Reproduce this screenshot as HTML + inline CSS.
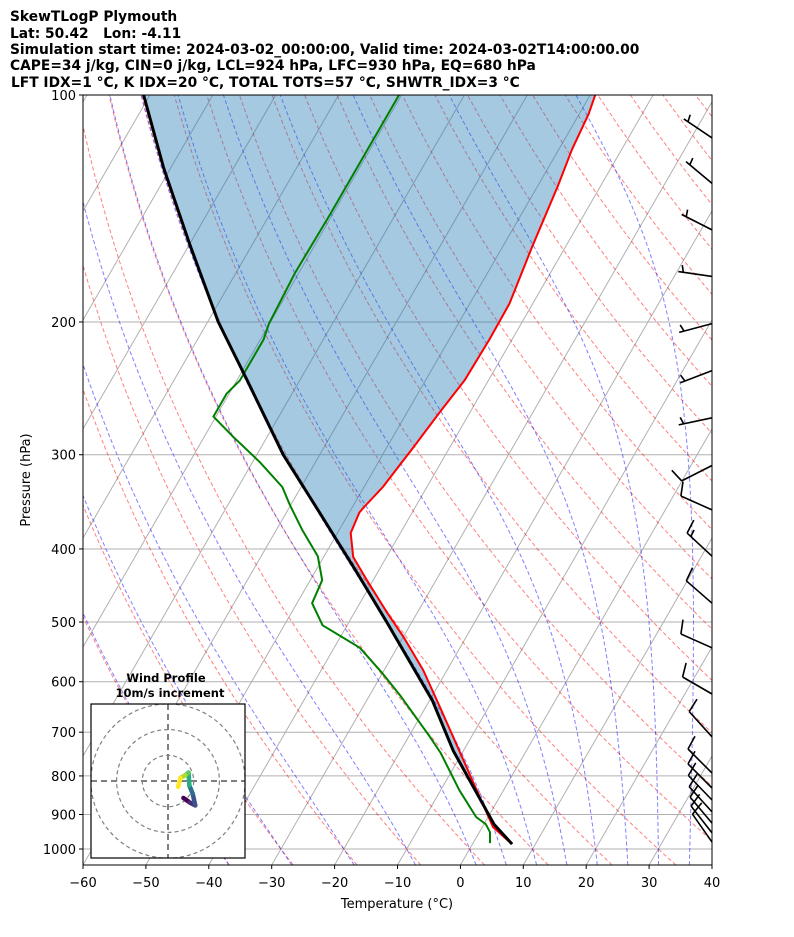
<!DOCTYPE html>
<html><head><meta charset="utf-8"><style>
html,body{margin:0;padding:0;background:#fff;}
svg{display:block;font-family:"DejaVu Sans","Liberation Sans",sans-serif;}
.hdr text{white-space:pre;}
</style></head><body>
<svg id="chart" width="794" height="937" viewBox="0 0 794 937" xmlns="http://www.w3.org/2000/svg">
<g class="hdr" font-weight="bold" font-size="13.8" fill="#000" xml:space="preserve">
<text x="10" y="21">SkewTLogP Plymouth</text>
<text x="10" y="38">Lat: 50.42   Lon: -4.11</text>
<text x="10" y="54">Simulation start time: 2024-03-02_00:00:00, Valid time: 2024-03-02T14:00:00.00</text>
<text x="10" y="70">CAPE=34 j/kg, CIN=0 j/kg, LCL=924 hPa, LFC=930 hPa, EQ=680 hPa</text>
<text x="11" y="87">LFT IDX=1 °C, K IDX=20 °C, TOTAL TOTS=57 °C, SHWTR_IDX=3 °C</text>
</g>
<defs><clipPath id="plotclip"><rect x="83" y="95" width="629" height="770"/></clipPath>
<clipPath id="hodoclip"><rect x="91" y="704" width="154" height="154"/></clipPath></defs>
<g id="plot" clip-path="url(#plotclip)"></g>
<g id="barbs"></g>
<rect x="83" y="95" width="629" height="770" fill="none" stroke="#000" stroke-width="1"/>
<g id="axes"></g>
<text x="397" y="908" text-anchor="middle" font-size="13">Temperature (°C)</text>
<text x="30" y="480" text-anchor="middle" font-size="13" transform="rotate(-90 30 480)">Pressure (hPa)</text>
<g id="hodo"></g>
</svg>
<script>
const tempP=[982,935,650,579,523,486,440,410,381,358,353,331,324,294,263,239,211,189,159,132,118,106,100];
const tempT=[6.0,1.7,-17.6,-23.8,-30.0,-34.8,-41.0,-45.3,-47.9,-48.4,-48.2,-47.0,-46.8,-45.8,-44.8,-43.8,-43.6,-43.7,-45.3,-46.8,-47.9,-48.5,-49.2];
const dewP=[982,950,927,907,836,746,710,625,583,541,505,472,440,409,378,350,331,307,284,267,249,239,211,201,172,144,115,100];
const dewT=[2.7,1.7,0.3,-1.9,-7.0,-13.4,-16.6,-25.2,-30.2,-35.9,-43.9,-47.6,-48.1,-51.0,-55.8,-60.1,-63.0,-68.8,-75.4,-80.4,-80.4,-79.5,-79.5,-80.1,-80.6,-80.4,-80.4,-80.4];
const parcelP=[985,927,741,636,500,429,353,300,238,200,158,125,100];
const parcelT=[6.3,1.6,-11.6,-19.5,-34.0,-43.4,-55.6,-65.8,-78.6,-88.3,-99.9,-111.1,-121.0];
const barbP=[114,131,151,174,201,232,268,310,355,409,472,541,623,710,793,830,861,893,924,952,979];
const barbDir=[304,310,297,278,255,249,258,243,294,313,311,294,300,318,315,315,316,318,320,322,325];
const barbSpd=[5,5,5,5,5,5,5,10,10,15,10,10,10,10,10,10,10,10,10,10,10];
const hodoU=[6.0,8.5,10.6,9.6,8.3,8.0,6.7,4.8,3.9];
const hodoV=[-6.6,-8.4,-9.5,-4.9,-1.7,3.3,2.2,1.2,-2.3];
const xTicks=[-60,-50,-40,-30,-20,-10,0,10,20,30,40];
const yTicks=[100,200,300,400,500,600,700,800,900,1000];
const dryTheta=[-40,-30,-20,-10,0,10,20,30,40,50,60,70,80,90,100,110,120,130,140,150,160,170,180,190];
const moistT0=[-40,-30,-20,-10,0,5,10,15,20,25,30,35];

const NS='http://www.w3.org/2000/svg';
const yOf=p=>95+754*Math.log10(p/100);
const xOf=(T,p)=>83+(T+60)*6.29+0.577*(865-yOf(p));
function mk(tag,attrs,parent){const e=document.createElementNS(NS,tag);for(const k in attrs)e.setAttribute(k,attrs[k]);parent.appendChild(e);return e;}
function pathFrom(P,T){return P.map((p,i)=>(i?'L':'M')+xOf(T[i],p).toFixed(1)+' '+yOf(p).toFixed(1)).join(' ');}
const plot=document.getElementById('plot');
yTicks.forEach(p=>{const l=mk('line',{x1:83,x2:712,y1:yOf(p),y2:yOf(p),stroke:'#b0b0b0','stroke-width':1},plot);
});
for(let t=-170;t<=40;t+=10){const l=mk('line',{x1:xOf(t,1050),y1:yOf(1050),x2:xOf(t,100),y2:yOf(100),stroke:'#b0b0b0','stroke-width':1},plot);
}
const pLev=[];for(let p=1050;p>=100;p-=10)pLev.push(p);
dryTheta.forEach(th=>{const T=pLev.map(p=>(th+273.15)*Math.pow(p/1000,0.2857)-273.15);
const e=mk('path',{d:pathFrom(pLev,T),fill:'none',stroke:'rgba(255,0,0,0.5)','stroke-width':1,'stroke-dasharray':'4,2.5'},plot);
});
function dTdp(p,T){const es=6.112*Math.exp(17.67*(T-273.15)/(T-29.65));const rs=0.622*es/(p-es);
return (287.04*T+2.501e6*rs)/(1005.7+2.501e6*2.501e6*rs*0.622/(287.04*T*T))/p;}
function moist(t0){const up=[],dn=[];let T=t0+273.15,p=1000;up.push([p,T]);
while(p>100){const h=-5;const k1=dTdp(p,T);const k2=dTdp(p+h,T+h*k1);T+=h*(k1+k2)/2;p+=h;up.push([p,T]);}
T=t0+273.15;p=1000;while(p<1050){const h=5;const k1=dTdp(p,T);const k2=dTdp(p+h,T+h*k1);T+=h*(k1+k2)/2;p+=h;dn.unshift([p,T]);}
return dn.concat(up);}
moistT0.forEach(t0=>{const pts=moist(t0);const e=mk('path',{d:pathFrom(pts.map(a=>a[0]),pts.map(a=>a[1]-273.15)),fill:'none',stroke:'rgba(0,0,255,0.5)','stroke-width':1,'stroke-dasharray':'4,2.5'},plot);
});
{const d=pathFrom(parcelP,parcelT)+' '+tempP.slice().reverse().map((p,i)=>'L'+xOf(tempT[tempT.length-1-i],p).toFixed(1)+' '+yOf(p).toFixed(1)).join(' ')+' Z';
const f=mk('path',{d:d,fill:'rgba(31,119,180,0.4)',stroke:'none'},plot);
}
{const e=mk('path',{d:pathFrom(dewP,dewT),fill:'none',stroke:'#008000','stroke-width':2,'stroke-linejoin':'round'},plot);
}
{const e=mk('path',{d:pathFrom(tempP,tempT),fill:'none',stroke:'#ff0000','stroke-width':2,'stroke-linejoin':'round'},plot);
}
{const e=mk('path',{d:pathFrom(parcelP,parcelT),fill:'none',stroke:'#000','stroke-width':3,'stroke-linejoin':'round'},plot);
}
const axes=document.getElementById('axes');
xTicks.forEach(t=>{const x=83+(t+60)*6.29;mk('line',{x1:x,x2:x,y1:865,y2:869,stroke:'#000'},axes);
const tx=mk('text',{x:x,y:887,'text-anchor':'middle','font-size':13},axes);tx.textContent=(t<0?'\u2212':'')+Math.abs(t);
});
yTicks.forEach(p=>{const y=yOf(p);mk('line',{x1:79,x2:83,y1:y,y2:y,stroke:'#000'},axes);
const tx=mk('text',{x:76,y:y+5,'text-anchor':'end','font-size':13},axes);tx.textContent=p;
});
const barbs=document.getElementById('barbs');
barbP.forEach((p,i)=>{const oy=yOf(p),ox=712,L=34,a=barbDir[i]*Math.PI/180;const ux=Math.sin(a),uy=-Math.cos(a);
const tx=ox+ux*L,ty=oy+uy*L;const px=-uy,py=ux;let d='M'+ox+' '+oy.toFixed(1)+' L'+tx.toFixed(1)+' '+ty.toFixed(1);
let s=barbSpd[i];let full=Math.floor(s/10);let half=(s%10)>=5?1:0;let pos=0;if(full===0&&half)pos=1;
for(let k=0;k<full;k++){const bx=tx-ux*pos*5,by=ty-uy*pos*5;d+=' M'+bx.toFixed(1)+' '+by.toFixed(1)+' L'+(bx+px*14+ux*4).toFixed(1)+' '+(by+py*14+uy*4).toFixed(1);pos++;}
if(half){const bx=tx-ux*pos*5,by=ty-uy*pos*5;d+=' M'+bx.toFixed(1)+' '+by.toFixed(1)+' L'+(bx+px*7+ux*2).toFixed(1)+' '+(by+py*7+uy*2).toFixed(1);}
const e=mk('path',{d:d,fill:'none',stroke:'#000','stroke-width':1.6},barbs);
});
const hodo=document.getElementById('hodo');
{const t1=mk('text',{x:166,y:682,'text-anchor':'middle','font-size':11.5,'font-weight':'bold'},hodo);t1.textContent='Wind Profile';

const t2=mk('text',{x:170,y:697,'text-anchor':'middle','font-size':11.5,'font-weight':'bold'},hodo);t2.textContent='10m/s increment';
}
mk('rect',{x:91,y:704,width:154,height:154,fill:'#fff',stroke:'none'},hodo);
const hg=mk('g',{'clip-path':'url(#hodoclip)'},hodo);
const cx=168,cy=781,sc=2.57;
[10,20,30].forEach(r=>{const c=mk('circle',{cx:cx,cy:cy,r:r*sc,fill:'none',stroke:'#808080','stroke-width':1.2,'stroke-dasharray':'4,3'},hg);
});
mk('line',{x1:91,x2:245,y1:cy,y2:cy,stroke:'#808080','stroke-width':2,'stroke-dasharray':'6,4'},hg);
mk('line',{x1:cx,x2:cx,y1:704,y2:858,stroke:'#808080','stroke-width':2,'stroke-dasharray':'6,4'},hg);
const vir=['#440154','#472d7b','#3b528b','#2c728e','#21918c','#28ae80','#5ec962','#addc30','#fde725'];
for(let i=0;i<hodoU.length-1;i++){const l=mk('line',{x1:cx+hodoU[i]*sc,y1:cy-hodoV[i]*sc,x2:cx+hodoU[i+1]*sc,y2:cy-hodoV[i+1]*sc,stroke:vir[Math.round(i*(vir.length-1)/(hodoU.length-2))],'stroke-width':4.5,'stroke-linecap':'round'},hg);
}
mk('rect',{x:91,y:704,width:154,height:154,fill:'none',stroke:'#000','stroke-width':1.2},hodo);
</script>
</body></html>
